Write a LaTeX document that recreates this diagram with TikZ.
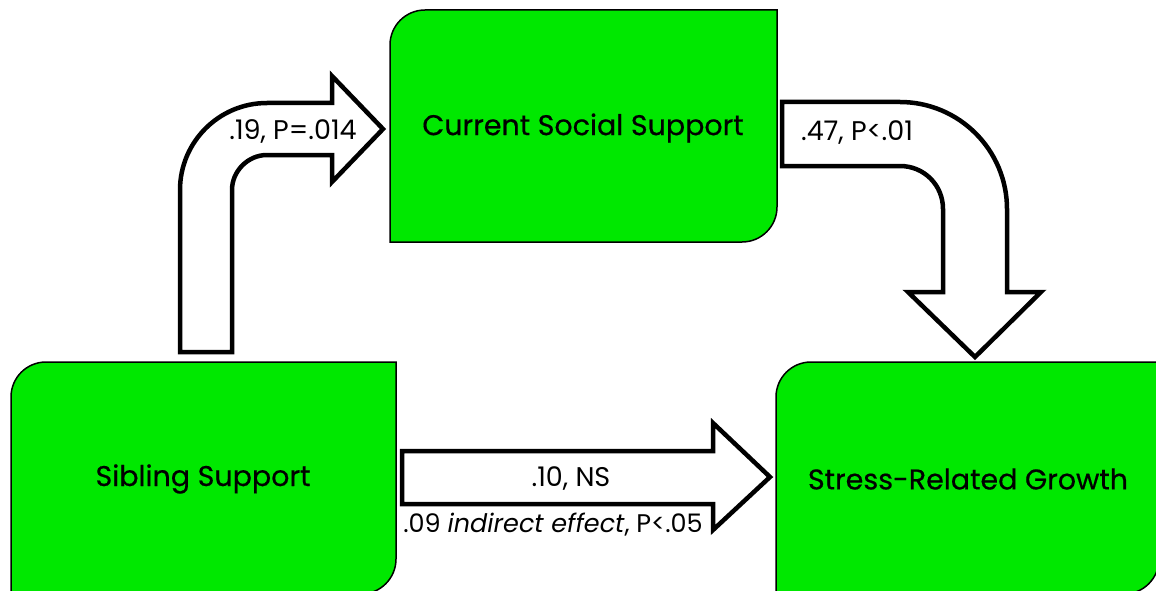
\documentclass[tikz,border=0pt]{standalone}
\usepackage{fontspec}
\setmainfont{Poppins}
\newfontfamily\boxfont[FakeBold=0.5]{Poppins}
\definecolor{boxgreen}{RGB}{0,232,0}
\tikzset{
  greenbox/.style={fill=boxgreen, draw=black, line width=1.5pt},
  blockarrow/.style={fill=white, draw=black, line width=4.5pt, line join=miter},
  boxlabel/.style={font=\boxfont\fontsize{28.5}{32}\selectfont, inner sep=0pt},
  pathlabel/.style={font=\fontsize{27}{30}\selectfont, inner sep=0pt},
  notelabel/.style={font=\fontsize{25.5}{28}\selectfont, inner sep=0pt},
}
% box with rounded top-left and bottom-right corners
\newcommand{\tlbrbox}[5]{%
  \path[greenbox] (#1,#4) -- (#1,#2+#5)
    .. controls (#1,#2+0.448*#5) and (#1+0.448*#5,#2) .. (#1+#5,#2)
    -- (#3,#2) -- (#3,#4-#5)
    .. controls (#3,#4-0.448*#5) and (#3-0.448*#5,#4) .. (#3-#5,#4)
    -- cycle;}
\begin{document}
\begin{tikzpicture}[x=1pt,y=-1pt]
\useasboundingbox (0,0) rectangle (1156,591);
\begin{scope}
\clip (0,0) rectangle (1156,591);
% boxes
\tlbrbox{390}{10}{777}{242}{35}
\tlbrbox{11}{362}{396}{594}{35}
\tlbrbox{776}{362}{1159}{594}{35}
\end{scope}
\node[boxlabel] (css) at (583,128) {Current Social Support};
\node[boxlabel] (sib) at (203,479) {Sibling Support};
\node[boxlabel] (srg) at (968,479) {Stress-Related Growth};
% bent arrow: sibling support -> current social support
\path[blockarrow] (180,352) -- (180,190)
  .. controls (180,142) and (219,103) .. (267,103)
  -- (332,103) -- (332,76) -- (383,129) -- (332,182) -- (332,155) -- (267,155)
  .. controls (248,155) and (232,171) .. (232,190)
  -- (232,352) -- cycle;
% bent arrow: current social support -> stress-related growth
\path[blockarrow] (782,102) -- (900,102)
  .. controls (959,102) and (1007,150) .. (1007,209)
  -- (1007,292) -- (1041,292) -- (975,357) -- (908,292) -- (943,292) -- (943,209)
  .. controls (943,185) and (924,166) .. (900,166)
  -- (782,166) -- cycle;
% straight arrow: sibling support -> stress-related growth
\path[blockarrow] (402,451) -- (713,451) -- (713,423) -- (770,477)
  -- (713,530) -- (713,504) -- (402,504) -- cycle;
% path coefficients
\node[pathlabel] (a) at (293,131) {.19, P=.014};
\node[pathlabel] (b) at (857,133) {.47, P<.01};
\node[pathlabel] (c) at (571,479) {.10, NS};
\node[notelabel] (d) at (553,525) {.09 \textit{indirect effect}, P<.05};
\end{tikzpicture}
\end{document}
